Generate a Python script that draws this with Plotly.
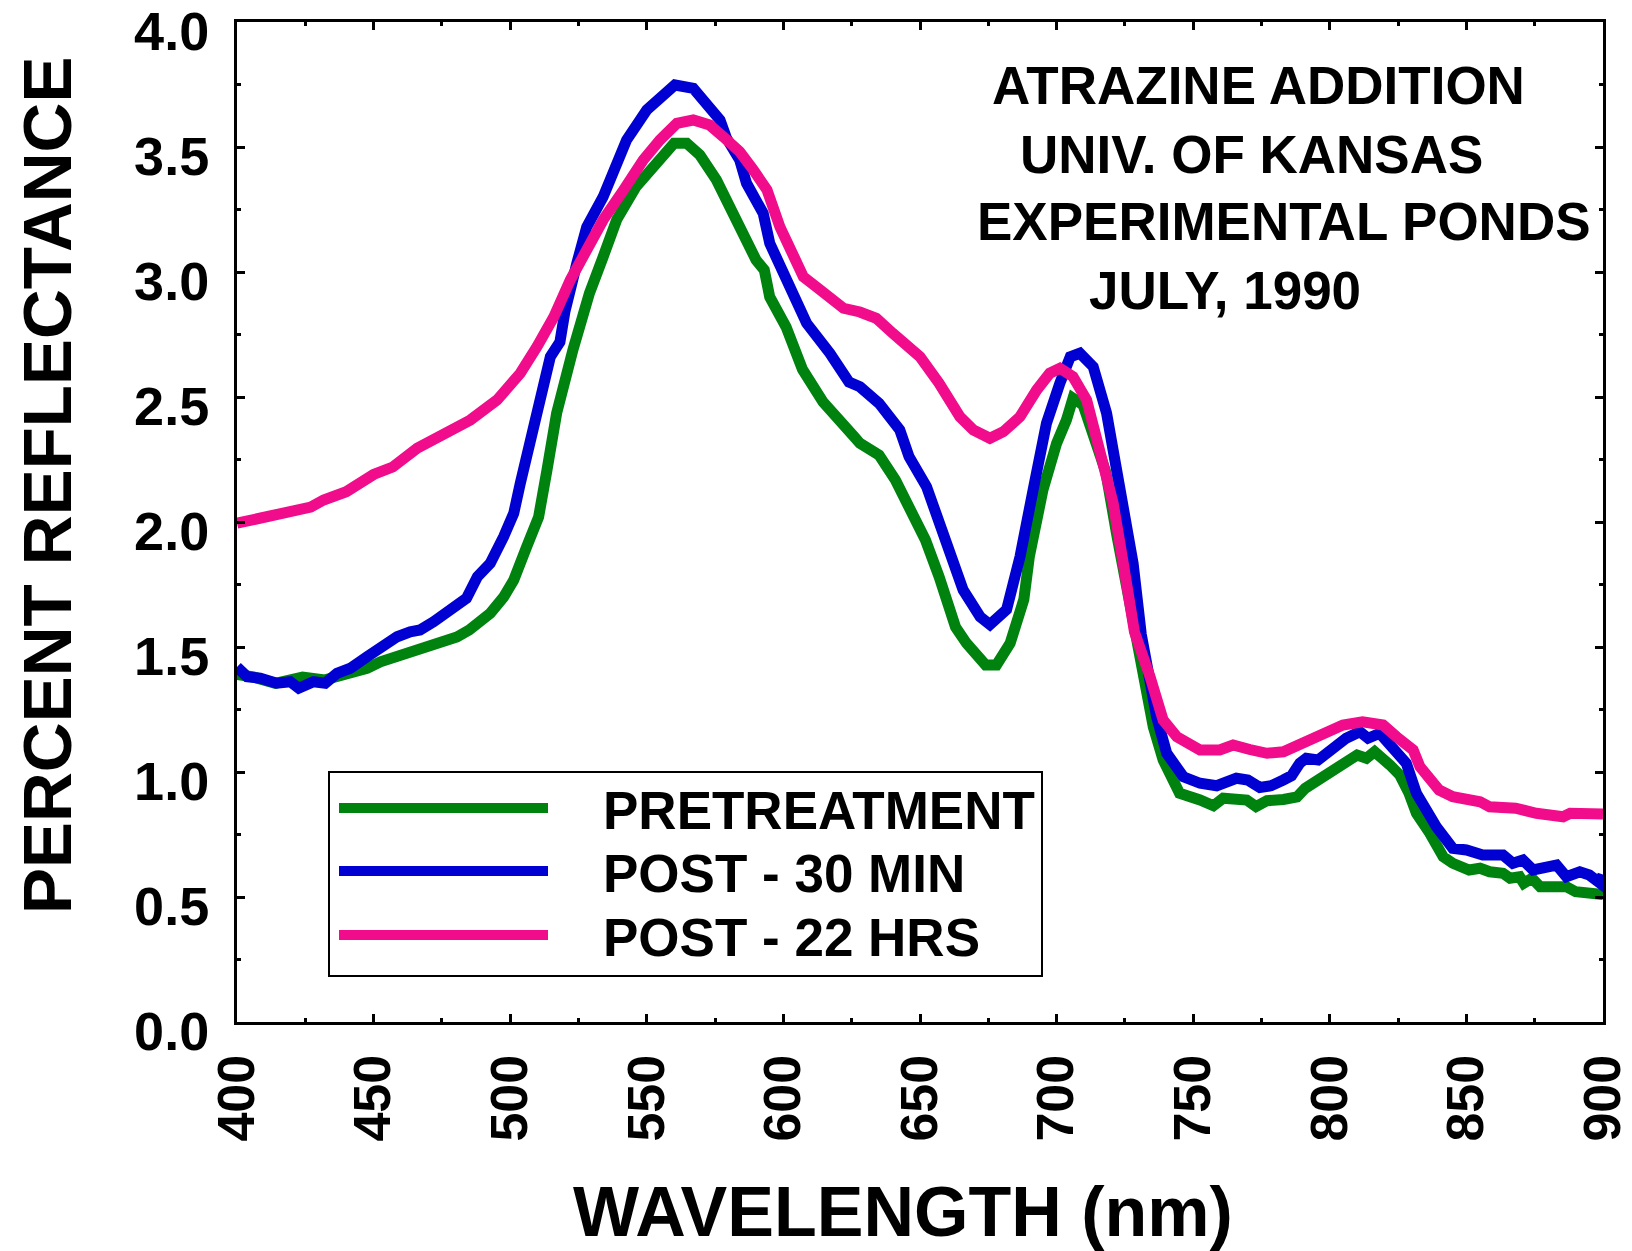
import plotly.graph_objects as go

# Spectral reflectance of the experimental ponds, three sampling times
wl_pre = [400, 406, 414, 419, 424, 432, 439, 447.6, 452.5, 463, 468, 480.5, 485, 492.7, 497.6,
          501.3, 506, 510.4, 513.5, 517, 523, 529, 534, 539, 546, 549, 555, 560, 564.6, 569.4,
          575.5, 579.2, 586.5, 590, 593, 595, 601, 605, 607, 614.5, 620, 626, 628, 635, 641,
          646, 652, 657, 663, 667, 674, 678, 683, 688, 690, 695, 700, 703.6, 706, 709.7, 713.4,
          718, 722, 725.5, 728, 730.5, 735.4, 739, 745, 752.5, 757.4, 761, 766, 769.6, 773,
          777, 783, 788, 791, 796, 800, 805, 810, 813.4, 816.4, 822, 825.6, 829, 831.7, 836.6,
          841.5, 845, 851, 855, 858.5, 863.4, 866, 869.5, 871, 874, 877, 886.6, 890, 900]
refl_pre = [1.39, 1.38, 1.355, 1.37, 1.38, 1.368, 1.388, 1.415, 1.441, 1.475, 1.50, 1.54, 1.568,
            1.635, 1.70, 1.768, 1.90, 2.02, 2.21, 2.435, 2.69, 2.915, 3.06, 3.21, 3.34, 3.38,
            3.46, 3.515, 3.515, 3.468, 3.368, 3.288, 3.141, 3.048, 3.008, 2.90, 2.78, 2.66,
            2.61, 2.48, 2.42, 2.34, 2.315, 2.268, 2.168, 2.048, 1.928, 1.781, 1.58, 1.515,
            1.428, 1.428, 1.515, 1.69, 1.86, 2.128, 2.315, 2.408, 2.495, 2.468, 2.355, 2.2,
            1.95, 1.74, 1.57, 1.475, 1.18, 1.048, 0.915, 0.888, 0.865, 0.895, 0.895, 0.888,
            0.862, 0.885, 0.89, 0.90, 0.935, 0.968, 0.995, 1.035, 1.068, 1.055, 1.081, 1.028,
            0.988, 0.915, 0.835, 0.755, 0.661, 0.635, 0.608, 0.615, 0.601, 0.595, 0.575, 0.581,
            0.555, 0.575, 0.541, 0.541, 0.521, 0.51]

wl_30min = [400, 403.7, 408.5, 414.6, 419.5, 422.6, 428, 432.3, 436.6, 441.5, 447.6, 452.5,
            458.6, 463.4, 467, 472, 477, 484, 488, 492.7, 497.6, 501.3, 503.7, 505, 509.8,
            514.7, 518.2, 520, 524.4, 528, 534, 538, 542.6, 550, 555, 560.3, 567, 570.7, 576.8,
            579.2, 584, 586.5, 592.6, 595, 598.7, 603.6, 608.5, 617, 624, 628, 635, 642.6, 646,
            652.4, 658.5, 665.8, 672, 675.6, 681.7, 686.6, 691.4, 696.3, 701.2, 705, 708.5,
            713.4, 718.3, 723, 728, 731, 736.6, 740.3, 746.4, 752.5, 758.6, 765.8, 770, 774.4,
            778.5, 783, 786, 789, 791.4, 795.7, 800, 806, 811, 814, 818.3, 823, 828, 831.7,
            839, 845, 850, 856, 863.4, 867, 870.7, 874.4, 878, 883, 886.6, 891.5, 895, 899, 900]
refl_30min = [1.42, 1.381, 1.375, 1.355, 1.361, 1.335, 1.361, 1.355, 1.395, 1.415, 1.461, 1.501,
              1.541, 1.561, 1.568, 1.601, 1.641, 1.695, 1.781, 1.835, 1.941, 2.035, 2.155, 2.215,
              2.448, 2.661, 2.72, 2.84, 3.035, 3.18, 3.30, 3.40, 3.528, 3.648, 3.701, 3.748,
              3.735, 3.681, 3.608, 3.535, 3.448, 3.355, 3.235, 3.115, 3.021, 2.915, 2.795,
              2.675, 2.56, 2.541, 2.475, 2.368, 2.261, 2.141, 1.941, 1.728, 1.621, 1.59, 1.65,
              1.861, 2.128, 2.395, 2.555, 2.661, 2.675, 2.621, 2.435, 2.168, 1.835, 1.55, 1.221,
              1.075, 0.981, 0.955, 0.945, 0.975, 0.968, 0.938, 0.945, 0.968, 0.985, 1.035, 1.055,
              1.048, 1.088, 1.135, 1.161, 1.135, 1.155, 1.101, 1.035, 0.915, 0.781, 0.695, 0.688,
              0.668, 0.668, 0.635, 0.648, 0.608, 0.615, 0.628, 0.581, 0.601, 0.588, 0.555, 0.59]

wl_22hrs = [400, 406, 412, 418, 422, 427, 431.7, 440, 450, 457, 466, 475.6, 485.4, 495.2, 503.7,
            509.8, 516, 522, 527, 534, 541.5, 548.7, 554.8, 561, 567, 573, 578, 584, 589, 594,
            598.7, 603.6, 607.3, 612, 617, 622, 628, 634, 640, 646, 650, 657, 664.6, 669.5,
            675.6, 680.5, 686.6, 692.7, 697.5, 701.2, 706, 711, 715.8, 720.7, 724.4, 728.5,
            734.2, 739, 744, 752.5, 759.7, 764.6, 770.7, 777, 783, 790, 796, 804.8, 812, 819.5,
            824.4, 830.5, 833, 840, 845, 855, 858.5, 868, 875.6, 885.4, 888, 900]
refl_22hrs = [1.995, 2.01, 2.021, 2.03, 2.041, 2.06, 2.088, 2.121, 2.19, 2.22, 2.295, 2.355,
              2.408, 2.488, 2.595, 2.701, 2.821, 2.968, 3.075, 3.208, 3.328, 3.448, 3.528, 3.595,
              3.608, 3.588, 3.541, 3.481, 3.408, 3.328, 3.181, 3.075, 2.981, 2.941, 2.901, 2.855,
              2.84, 2.815, 2.755, 2.70, 2.661, 2.555, 2.421, 2.368, 2.335, 2.361, 2.421, 2.528,
              2.595, 2.615, 2.581, 2.488, 2.275, 2.075, 1.835, 1.56, 1.381, 1.208, 1.141, 1.088,
              1.088, 1.108, 1.09, 1.075, 1.081, 1.115, 1.148, 1.188, 1.201, 1.188, 1.141, 1.088,
              1.021, 0.928, 0.901, 0.881, 0.861, 0.855, 0.835, 0.821, 0.835, 0.832]

series_names = ["PRETREATMENT", "POST - 30 MIN", "POST - 22 HRS"]
series_colors = ["#00820F", "#0000D2", "#F00C8A"]
title_lines = ["ATRAZINE ADDITION", "UNIV. OF KANSAS", "EXPERIMENTAL PONDS", "JULY, 1990"]
y_ticks = [0.0, 0.5, 1.0, 1.5, 2.0, 2.5, 3.0, 3.5, 4.0]

FONT = "Liberation Sans, Arial, Helvetica, sans-serif"
W, H = 1632, 1251
L, R, T, B = 237, 29, 22, 229
PW, PH = W - L - R, H - T - B


def px(x):
    return (x - L) / PW


def py(y):
    return (H - B - y) / PH


fig = go.Figure()
for wl, refl, name, color in zip([wl_pre, wl_30min, wl_22hrs],
                                 [refl_pre, refl_30min, refl_22hrs],
                                 series_names, series_colors):
    fig.add_trace(go.Scatter(x=wl, y=refl, mode="lines", name=name, showlegend=False,
                             line=dict(color=color, width=11)))

axis_common = dict(
    showline=True, linecolor="black", linewidth=3, mirror="ticks",
    ticks="inside", tickcolor="black", tickwidth=2.5, showgrid=False, zeroline=False,
    ticklabeloverflow="allow", automargin=False,
)

fig.update_xaxes(range=[400, 900], dtick=50, tick0=400, ticklen=8, tickangle=-90,
                 ticklabelstandoff=9,
                 tickfont=dict(family=FONT, size=52, color="black", weight="bold"),
                 minor=dict(dtick=25, ticklen=4, tickwidth=2.5, tickcolor="black", ticks="inside"),
                 **axis_common)
fig.update_yaxes(range=[0, 4], tickmode="array", tickvals=y_ticks,
                 ticktext=[f"{v:.1f}" for v in y_ticks], ticklen=8,
                 ticklabelstandoff=14, ticklabelshift=9,
                 tickfont=dict(family=FONT, size=54, color="black", weight="bold"),
                 minor=dict(dtick=0.25, tick0=0, ticklen=4, tickwidth=2.5, tickcolor="black",
                            ticks="inside"),
                 **axis_common)

annotations = []
# axis titles
annotations.append(dict(text="PERCENT REFLECTANCE", x=px(48), y=py(486), xref="paper", yref="paper",
                        textangle=-90, showarrow=False, xanchor="center", yanchor="middle",
                        font=dict(family=FONT, size=69, color="black", weight="bold")))
annotations.append(dict(text="WAVELENGTH (nm)", x=px(903), y=py(1212), xref="paper", yref="paper",
                        showarrow=False, xanchor="center", yanchor="middle",
                        font=dict(family=FONT, size=70, color="black", weight="bold")))

# title block in the upper right
title_left = [990, 1018, 975, 1087]
title_mid = [86, 154, 222, 290]
for txt, xl, ym in zip(title_lines, title_left, title_mid):
    annotations.append(dict(text=txt, x=px(xl), y=py(ym), xref="paper", yref="paper",
                            showarrow=False, xanchor="left", yanchor="middle",
                            font=dict(family=FONT, size=53, color="black", weight="bold")))

# legend: framed box with long line samples
shapes = [dict(type="rect", xref="paper", yref="paper", x0=px(329), x1=px(1042),
               y0=py(976), y1=py(772), line=dict(color="black", width=2), fillcolor="white",
               layer="above")]
row_y = [808, 871, 935]
for name, color, ry in zip(series_names, series_colors, row_y):
    shapes.append(dict(type="line", xref="paper", yref="paper", x0=px(339), x1=px(548),
                       y0=py(ry), y1=py(ry), line=dict(color=color, width=10), layer="above"))
    annotations.append(dict(text=name, x=px(601), y=py(ry + 2), xref="paper", yref="paper",
                            showarrow=False, xanchor="left", yanchor="middle",
                            font=dict(family=FONT, size=53, color="black", weight="bold")))

fig.update_layout(
    width=W, height=H, margin=dict(l=L, r=R, t=T, b=B, pad=0),
    paper_bgcolor="white", plot_bgcolor="white",
    annotations=annotations, shapes=shapes, showlegend=False,
)

fig.write_html("out.html")
